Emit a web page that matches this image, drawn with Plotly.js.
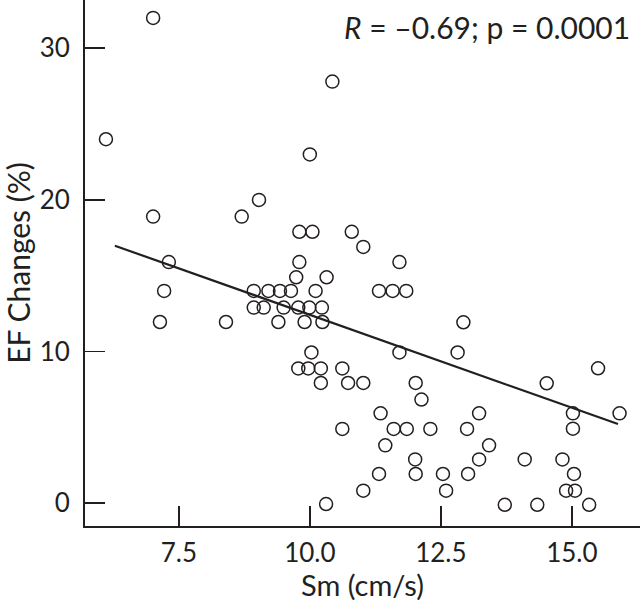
<!DOCTYPE html>
<html>
<head>
<meta charset="utf-8">
<script src="https://cdn.plot.ly/plotly-3.0.1.min.js"></script>
<style>html,body{margin:0;padding:0;background:#fff;}#chart{width:640px;height:602px;}</style>
</head>
<body>
<div id="chart"></div>
<script>
// Sm (cm/s) values
const smValues = [
  7.01, 6.11, 10.00, 9.03, 7.01, 8.70, 9.80, 10.05, 7.31, 9.80, 9.74, 10.43, 10.80, 11.02, 11.71, 10.32,
  7.22, 8.93, 9.21, 9.43, 9.64, 10.11, 11.32, 11.58, 11.84,
  8.93, 9.12, 9.50, 9.78, 9.99, 10.23,
  7.14, 8.40, 9.40, 9.90, 10.24, 12.93,
  10.03, 11.71, 12.82,
  9.78, 9.97, 10.21, 10.62, 15.50,
  10.21, 10.73, 11.02, 12.02, 14.52, 12.13,
  11.35, 13.23, 15.02, 15.91,
  10.62, 11.60, 11.85, 12.30, 13.00, 15.02,
  11.44, 13.42,
  12.01, 13.23, 14.10, 14.82,
  11.32, 12.02, 12.54, 13.02, 15.04,
  11.02, 12.60, 14.89, 15.06,
  10.31, 13.72, 14.34, 15.33
];
// EF changes (%) values
const efChanges = [
  32.0, 24.0, 23.0, 20.0, 18.9, 18.9, 17.9, 17.9, 15.9, 15.9, 14.9, 27.8, 17.9, 16.9, 15.9, 14.9,
  14.0, 14.0, 14.0, 14.0, 14.0, 14.0, 14.0, 14.0, 14.0,
  12.9, 12.9, 12.9, 12.9, 12.9, 12.9,
  11.95, 11.95, 11.95, 11.95, 11.95, 11.93,
  9.94, 9.94, 9.94,
  8.89, 8.89, 8.89, 8.89, 8.90,
  7.93, 7.93, 7.93, 7.93, 7.91, 6.84,
  5.93, 5.93, 5.93, 5.93,
  4.90, 4.90, 4.90, 4.90, 4.90, 4.92,
  3.82, 3.82,
  2.89, 2.89, 2.89, 2.89,
  1.93, 1.93, 1.93, 1.93, 1.93,
  0.83, 0.83, 0.83, 0.83,
  -0.05, -0.1, -0.1, -0.1
];
// regression line end points
const fitX = [6.28, 15.88];
const fitY = [16.98, 5.22];
// tick values / labels
const xTickVals = [7.5, 10.0, 12.5, 15.0];
const xTickText = ['7.5', '10.0', '12.5', '15.0'];
const yTickVals = [0, 10, 20, 30];
const yTickText = ['0', '10', '20', '30'];

const ink = '#231f20';
const fontFam = 'Lato, "Noto Sans", sans-serif';

const traces = [
  {
    x: fitX, y: fitY, type: 'scatter', mode: 'lines',
    line: {color: ink, width: 2.2}, hoverinfo: 'skip', showlegend: false
  },
  {
    x: smValues, y: efChanges, type: 'scatter', mode: 'markers',
    marker: {symbol: 'circle-open', size: 13, color: ink, line: {color: ink, width: 1.5}},
    showlegend: false
  }
];

const layout = {
  width: 640, height: 602,
  margin: {l: 85, r: 0, t: 0, b: 76, pad: 0},
  paper_bgcolor: '#fff', plot_bgcolor: '#fff',
  font: {family: fontFam, color: ink, size: 26},
  showlegend: false,
  xaxis: {
    range: [5.71, 16.30], showgrid: false, zeroline: false,
    showline: true, linecolor: ink, linewidth: 2,
    ticks: 'inside', ticklen: 20, tickwidth: 1.6, tickcolor: ink,
    tickvals: xTickVals, ticktext: xTickText,
    tickfont: {family: fontFam, size: 26, color: ink},
    ticklabelstandoff: 3,
    title: {text: 'Sm (cm/s)', font: {family: fontFam, size: 29, color: ink}, standoff: 6}
  },
  yaxis: {
    range: [-1.5, 33.18], showgrid: false, zeroline: false,
    showline: true, linecolor: ink, linewidth: 2,
    ticks: 'inside', ticklen: 20, tickwidth: 1.6, tickcolor: ink,
    tickvals: yTickVals, ticktext: yTickText,
    tickfont: {family: fontFam, size: 26, color: ink},
    ticklabelstandoff: 8,
    title: {text: 'EF Changes (%)', font: {family: fontFam, size: 30, color: ink}, standoff: 4}
  },
  annotations: [{
    xref: 'paper', yref: 'paper', x: 0.986, y: 0.948,
    xanchor: 'right', yanchor: 'middle', showarrow: false,
    text: '<i>R</i> = \u20130.69; p = 0.0001',
    font: {family: fontFam, size: 30, color: ink}
  }]
};

Plotly.newPlot('chart', traces, layout, {staticPlot: true, displayModeBar: false});
</script>
</body>
</html>
